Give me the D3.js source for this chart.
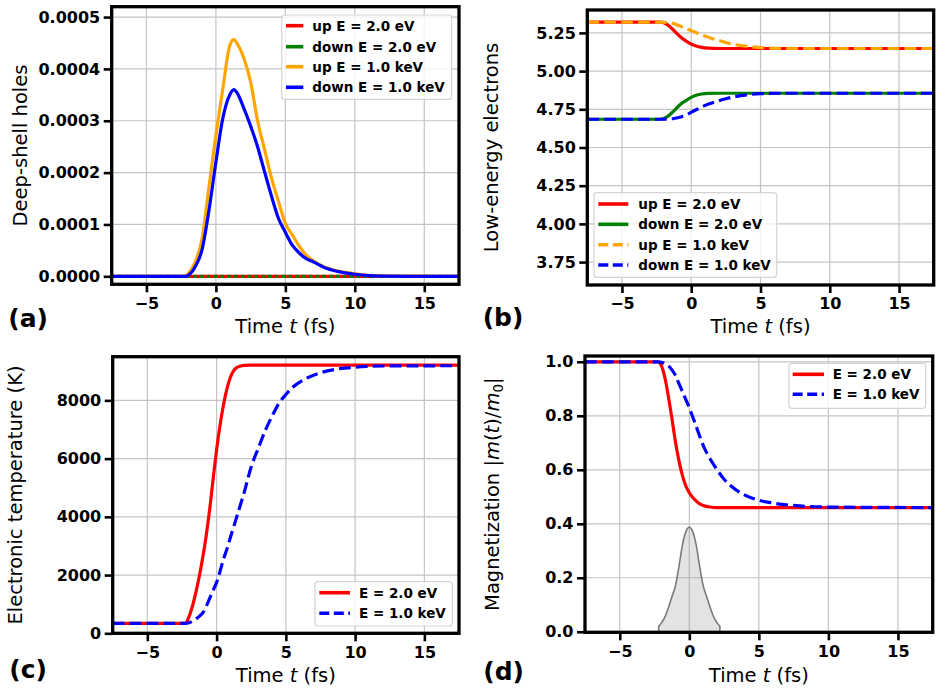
<!DOCTYPE html>
<html>
<head>
<meta charset="utf-8">
<script src="https://cdn.jsdelivr.net/npm/d3@7"></script>
<style>
  html, body { margin: 0; padding: 0; background: #fff; }
  svg { display: block; }
</style>
</head>
<body>
<div id="chart"></div>
<script>
// ---- data ----
const xTicks = [-5, 0, 5, 10, 15]

// (a) deep-shell holes
const tA = [-7.5, -2.2, -2, -1.5, -1, -0.5, 0, 0.5, 1, 1.3, 1.5, 2, 2.5, 3, 3.5, 4, 4.5, 5, 5.5, 6, 6.5, 7, 8, 9, 10, 11, 12, 14, 17.5]
const tA0 = [-7.5, 17.5]
const holesUp2eV = [0, 0]
const holesDown2eV = [0, 0]
const holesUp1keV = [0, 0, 0.05e-4, 0.27e-4, 0.72e-4, 1.72e-4, 2.72e-4, 3.62e-4, 4.45e-4, 4.57e-4, 4.5e-4, 4.22e-4, 3.75e-4, 3.0e-4, 2.45e-4, 1.9e-4, 1.45e-4, 1.02e-4, 0.8e-4, 0.58e-4, 0.41e-4, 0.3e-4, 0.16e-4, 0.09e-4, 0.05e-4, 0.02e-4, 0.01e-4, 0.002e-4, 0]
const holesDown1keV = [0, 0, 0.02e-4, 0.18e-4, 0.51e-4, 1.27e-4, 2.2e-4, 3.05e-4, 3.5e-4, 3.6e-4, 3.55e-4, 3.25e-4, 2.9e-4, 2.5e-4, 2.02e-4, 1.55e-4, 1.12e-4, 0.85e-4, 0.6e-4, 0.45e-4, 0.34e-4, 0.28e-4, 0.15e-4, 0.08e-4, 0.04e-4, 0.015e-4, 0.005e-4, 0, 0]
const yTicksA = [0, 0.0001, 0.0002, 0.0003, 0.0004, 0.0005]

// (b) low-energy electrons
const tB = [-7.5, -2.2, -1.75, -1.25, -0.75, -0.25, 0.25, 0.75, 1.25, 2, 2.5, 3, 4, 5, 6.5, 8, 17.5]
const lowUp2eV = [5.32, 5.32, 5.306, 5.266, 5.222, 5.19, 5.167, 5.155, 5.15, 5.148, 5.148, 5.148, 5.148, 5.148, 5.148, 5.148, 5.148]
const lowDown2eV = [4.685, 4.685, 4.70, 4.74, 4.785, 4.815, 4.838, 4.85, 4.854, 4.855, 4.855, 4.855, 4.855, 4.855, 4.855, 4.855, 4.855]
const lowUp1keV = [5.32, 5.32, 5.318, 5.311, 5.293, 5.274, 5.256, 5.238, 5.221, 5.2, 5.187, 5.176, 5.162, 5.154, 5.149, 5.148, 5.148]
const lowDown1keV = [4.685, 4.685, 4.686, 4.69, 4.70, 4.718, 4.742, 4.765, 4.784, 4.806, 4.819, 4.83, 4.845, 4.852, 4.855, 4.855, 4.855]
const yTicksB = [3.75, 4.0, 4.25, 4.5, 4.75, 5.0, 5.25]

// (c) electronic temperature
const tC = [-7.5, -2.25, -2, -1.75, -1.5, -1.25, -1, -0.75, -0.5, -0.25, 0, 0.25, 0.5, 0.75, 1, 1.25, 1.5, 2, 2.5, 3, 3.5, 4, 4.5, 5, 5.5, 6.5, 7.5, 8.5, 10, 12, 17.5]
const temp2eV = [343, 343, 560, 920, 1400, 1950, 2600, 3350, 4250, 5300, 6300, 7150, 7850, 8400, 8800, 9030, 9140, 9205, 9212, 9212, 9212, 9212, 9212, 9212, 9212, 9212, 9212, 9212, 9212, 9212, 9212]
const temp1keV = [343, 343, 360, 410, 490, 580, 700, 920, 1200, 1470, 1750, 2130, 2550, 2900, 3300, 3680, 4070, 4850, 5720, 6340, 6950, 7450, 7900, 8200, 8450, 8760, 8950, 9060, 9140, 9180, 9190]
const yTicksC = [0, 2000, 4000, 6000, 8000]

// (d) magnetization
const tD = [-7.5, -2.25, -2, -1.75, -1.5, -1.25, -1, -0.75, -0.5, -0.25, 0, 0.25, 0.5, 0.75, 1, 1.5, 2, 2.5, 3, 4, 5, 6, 7, 8, 10, 17.5]
const mag2eV = [1.0, 1.0, 0.985, 0.94, 0.87, 0.79, 0.705, 0.635, 0.58, 0.54, 0.515, 0.497, 0.484, 0.474, 0.468, 0.462, 0.46, 0.46, 0.46, 0.46, 0.46, 0.46, 0.46, 0.46, 0.46, 0.46]
const mag1keV = [1.0, 1.0, 0.998, 0.993, 0.985, 0.97, 0.95, 0.92, 0.89, 0.86, 0.83, 0.795, 0.76, 0.724, 0.69, 0.64, 0.60, 0.565, 0.54, 0.506, 0.487, 0.477, 0.47, 0.466, 0.462, 0.46]
const tPulse = [-2.2, -2, -1.75, -1.5, -1.25, -1, -0.75, -0.5, -0.25, 0, 0.25, 0.5, 0.75, 1, 1.25, 1.5, 1.75, 2, 2.2]
const pulse = [0.02, 0.033, 0.055, 0.09, 0.13, 0.17, 0.24, 0.32, 0.37, 0.387, 0.37, 0.32, 0.24, 0.17, 0.13, 0.09, 0.055, 0.033, 0.02]
const yTicksD = [0, 0.2, 0.4, 0.6, 0.8, 1.0]

const labels2 = ['up E = 2.0 eV', 'down E = 2.0 eV', 'up E = 1.0 keV', 'down E = 1.0 keV']
const labelsE = ['E = 2.0 eV', 'E = 1.0 keV']

// ---- drawing ----
const W = 942, H = 691
const FONT = '"DejaVu Sans", sans-serif'
const RED = '#ff0000', GREEN = '#008000', ORANGE = '#ffa500', BLUE = '#0000ff'
const LW = 3.2
const DASH = '11.8,5.1'

const svg = d3.select('#chart').append('svg')
  .attr('width', W).attr('height', H)
  .attr('viewBox', `0 0 ${W} ${H}`)

svg.append('rect').attr('width', W).attr('height', H).attr('fill', '#fff')

function zip(t, v) { return t.map((d, i) => [d, v[i]]) }

let clipId = 0

function panel(cfg) {
  const { x0, x1, y0, y1 } = cfg
  const x = d3.scaleLinear().domain([-7.5, 17.5]).range([x0, x1])
  const y = d3.scaleLinear().domain(cfg.yDomain).range([y1, y0])
  const g = svg.append('g')

  // gridlines
  const grid = g.append('g').attr('stroke', '#c4c4c4').attr('stroke-width', 1.2)
  grid.selectAll('line.gx').data(xTicks).join('line')
    .attr('x1', d => x(d)).attr('x2', d => x(d)).attr('y1', y0).attr('y2', y1)
  grid.selectAll('line.gy').data(cfg.yTicks).join('line')
    .attr('x1', x0).attr('x2', x1).attr('y1', d => y(d)).attr('y2', d => y(d))

  // data
  const id = 'clip' + (clipId++)
  g.append('clipPath').attr('id', id).append('rect')
    .attr('x', x0).attr('y', y0).attr('width', x1 - x0).attr('height', y1 - y0)
  const plot = g.append('g').attr('clip-path', `url(#${id})`)
  const line = d3.line().x(d => x(d[0])).y(d => y(d[1])).curve(d3.curveMonotoneX)
  if (cfg.area) {
    const area = d3.area().x(d => x(d[0])).y0(y(0)).y1(d => y(d[1])).curve(d3.curveMonotoneX)
    plot.append('path').datum(cfg.area)
      .attr('d', area)
      .attr('fill', 'rgba(128,128,128,0.22)')
      .attr('stroke', '#7a7a7a').attr('stroke-width', 1.6)
  }
  cfg.series.forEach(s => {
    plot.append('path').datum(s.data)
      .attr('d', line)
      .attr('fill', 'none')
      .attr('stroke', s.color)
      .attr('stroke-width', LW)
      .attr('stroke-dasharray', s.dash || null)
  })

  // axes
  const xAxis = d3.axisBottom(x).tickValues(xTicks).tickSize(8).tickPadding(5).tickFormat(d3.format('d'))
  const yAxis = d3.axisLeft(y).tickValues(cfg.yTicks).tickSize(8).tickPadding(3.5).tickFormat(d3.format(cfg.yFmt))
  const styleAxis = a => {
    a.select('.domain').remove()
    a.selectAll('.tick line').attr('stroke', '#000').attr('stroke-width', 2.6)
    a.selectAll('.tick text')
      .attr('fill', '#000').attr('font-size', '16px').attr('font-weight', 'bold')
      .attr('font-family', FONT)
  }
  g.append('g').attr('transform', `translate(0,${y1})`).call(xAxis).call(styleAxis)
  g.append('g').attr('transform', `translate(${x0},0)`).call(yAxis).call(styleAxis)

  // frame
  g.append('rect')
    .attr('x', x0).attr('y', y0).attr('width', x1 - x0).attr('height', y1 - y0)
    .attr('fill', 'none').attr('stroke', '#000').attr('stroke-width', 3.3)

  // axis titles
  const xt = g.append('text')
    .attr('x', (x0 + x1) / 2).attr('y', cfg.xTitleY)
    .attr('text-anchor', 'middle')
    .attr('font-family', FONT).attr('font-size', '19.5px').attr('fill', '#000')
  xt.append('tspan').text('Time ')
  xt.append('tspan').attr('font-style', 'italic').text('t')
  xt.append('tspan').text(' (fs)')

  const yt = g.append('text')
    .attr('transform', `translate(${cfg.yTitleX},${(y0 + y1) / 2}) rotate(-90)`)
    .attr('text-anchor', 'middle')
    .attr('font-family', FONT).attr('font-size', '19.5px').attr('fill', '#000')
  cfg.yTitle(yt)

  // panel letter
  g.append('text')
    .attr('x', cfg.letterPos[0]).attr('y', cfg.letterPos[1])
    .attr('font-family', FONT).attr('font-size', '25px').attr('font-weight', 'bold')
    .attr('fill', '#000')
    .text(cfg.letter)

  // legend
  const L = cfg.legend
  const lg = g.append('g')
  lg.append('rect')
    .attr('x', L.box[0]).attr('y', L.box[1])
    .attr('width', L.box[2] - L.box[0]).attr('height', L.box[3] - L.box[1])
    .attr('rx', 3).attr('fill', 'rgba(255,255,255,0.8)')
    .attr('stroke', '#d4d4d4').attr('stroke-width', 1.2)
  L.items.forEach((it, i) => {
    const cy = L.rows[i]
    lg.append('line')
      .attr('x1', L.hx[0]).attr('x2', L.hx[1]).attr('y1', cy).attr('y2', cy)
      .attr('stroke', it.color).attr('stroke-width', LW + 0.4)
      .attr('stroke-dasharray', it.dash || null)
    lg.append('text')
      .attr('x', L.tx).attr('y', cy).attr('dy', '0.36em')
      .attr('font-family', FONT).attr('font-size', '13.5px').attr('font-weight', 'bold')
      .attr('fill', '#000')
      .text(it.label)
  })
}

// (a)
panel({
  x0: 111.7, x1: 459, y0: 6.7, y1: 284.3,
  yDomain: [-0.0000154, 0.00052], yTicks: yTicksA, yFmt: '.4f',
  series: [
    { data: zip(tA0, holesUp2eV), color: RED },
    { data: zip(tA0, holesDown2eV), color: GREEN, dash: '3.4,3.4' },
    { data: zip(tA, holesUp1keV), color: ORANGE },
    { data: zip(tA, holesDown1keV), color: BLUE }
  ],
  xTitleY: 332.5, yTitleX: 26.7,
  yTitle: t => t.text('Deep-shell holes'),
  letter: '(a)', letterPos: [8.3, 326.7],
  legend: {
    box: [281.7, 15, 451.7, 99.3], rows: [25.7, 46.7, 66.7, 87.3], hx: [286, 303.3], tx: 312.3,
    items: [
      { label: labels2[0], color: RED },
      { label: labels2[1], color: GREEN },
      { label: labels2[2], color: ORANGE },
      { label: labels2[3], color: BLUE }
    ]
  }
})

// (b)
panel({
  x0: 587.3, x1: 933.7, y0: 10, y1: 285,
  yDomain: [3.6, 5.4], yTicks: yTicksB, yFmt: '.2f',
  series: [
    { data: zip(tB, lowUp2eV), color: RED },
    { data: zip(tB, lowDown2eV), color: GREEN },
    { data: zip(tB, lowUp1keV), color: ORANGE, dash: DASH },
    { data: zip(tB, lowDown1keV), color: BLUE, dash: DASH }
  ],
  xTitleY: 332.5, yTitleX: 498.3,
  yTitle: t => t.text('Low-energy electrons'),
  letter: '(b)', letterPos: [482.7, 325.5],
  legend: {
    box: [594, 192.7, 776.7, 277.3], rows: [204, 224.3, 244.7, 265], hx: [598.3, 628.3], tx: 638.3,
    items: [
      { label: labels2[0], color: RED },
      { label: labels2[1], color: GREEN },
      { label: labels2[2], color: ORANGE, dash: '10,4.5' },
      { label: labels2[3], color: BLUE, dash: '10,4.5' }
    ]
  }
})

// (c)
panel({
  x0: 112.7, x1: 459, y0: 356.7, y1: 633.3,
  yDomain: [0, 9500], yTicks: yTicksC, yFmt: 'd',
  series: [
    { data: zip(tC, temp2eV), color: RED },
    { data: zip(tC, temp1keV), color: BLUE, dash: DASH }
  ],
  xTitleY: 681.7, yTitleX: 21.7,
  yTitle: t => t.text('Electronic temperature (K)'),
  letter: '(c)', letterPos: [9.3, 678.3],
  legend: {
    box: [315, 581.7, 452.3, 626], rows: [592.7, 613.3], hx: [319.3, 350], tx: 359,
    items: [
      { label: labelsE[0], color: RED },
      { label: labelsE[1], color: BLUE, dash: '10,4.5' }
    ]
  }
})

// (d)
panel({
  x0: 585, x1: 932.7, y0: 356, y1: 632.3,
  yDomain: [-0.002, 1.0215], yTicks: yTicksD, yFmt: '.1f',
  area: zip(tPulse, pulse),
  series: [
    { data: zip(tD, mag2eV), color: RED },
    { data: zip(tD, mag1keV), color: BLUE, dash: DASH }
  ],
  xTitleY: 681.7, yTitleX: 499.3,
  yTitle: t => {
    t.append('tspan').text('Magnetization |')
    t.append('tspan').attr('font-style', 'italic').text('m')
    t.append('tspan').text('(')
    t.append('tspan').attr('font-style', 'italic').text('t')
    t.append('tspan').text(')/')
    t.append('tspan').attr('font-style', 'italic').text('m')
    t.append('tspan').attr('font-size', '13.5px').attr('dy', '4').text('0')
    t.append('tspan').attr('dy', '-4').text('|')
  },
  letter: '(d)', letterPos: [483.3, 680],
  legend: {
    box: [789, 363.3, 925.7, 408.3], rows: [374.3, 394.3], hx: [792.7, 824], tx: 832.7,
    items: [
      { label: labelsE[0], color: RED },
      { label: labelsE[1], color: BLUE, dash: '10,4.5' }
    ]
  }
})
</script>
</body>
</html>
